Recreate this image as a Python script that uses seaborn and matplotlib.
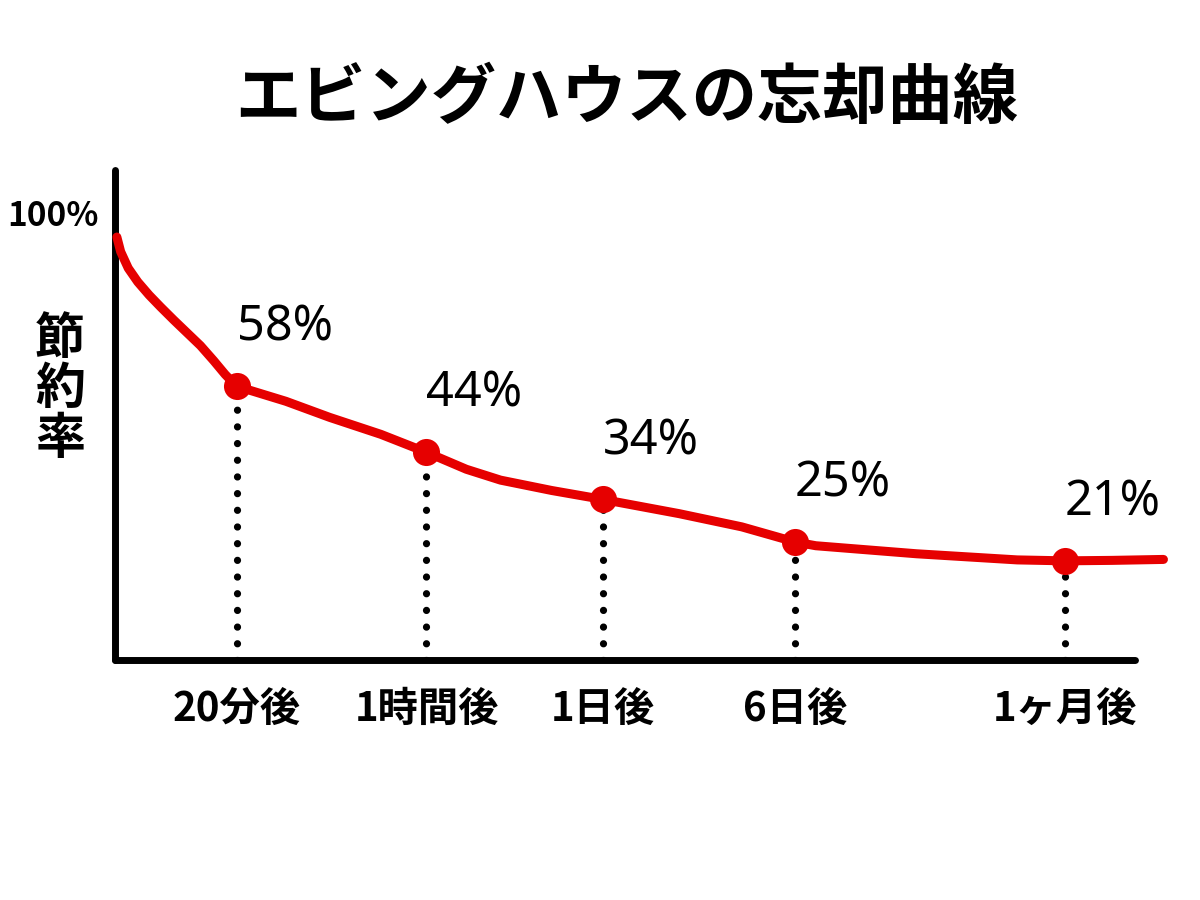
import matplotlib
matplotlib.use("Agg")
import matplotlib.pyplot as plt
import matplotlib.transforms as mtransforms
import seaborn as sns
import pandas as pd

# 記憶の節約率
labels = ["20分後", "1時間後", "1日後", "6日後", "1ヶ月後"]
x_pos = [0.64, 1.64, 2.57, 3.58, 5.0]
savings = [58, 44, 34, 25, 21]

# hand drawn curve: extra points
curve_x = [0.01, 0.03, 0.07, 0.12, 0.18, 0.24, 0.31, 0.38, 0.45, 0.52, 0.58, 0.64,
           0.9, 1.13, 1.4, 1.64, 1.85, 2.03, 2.3, 2.57,
           2.97, 3.3, 3.58, 3.69, 4.22, 4.75, 5.0, 5.25, 5.52]
curve_y = [89.6, 86.5, 83.0, 80.1, 77.3, 74.8, 72.0, 69.3, 66.6, 63.4, 60.5, 58,
           54.8, 51.4, 47.8, 44, 40.4, 38.1, 35.9, 34,
           31.0, 28.2, 25, 24.2, 22.5, 21.2, 21, 21.1, 21.3]

RED = "#e60000"

sns.set_theme(style="white")
plt.rcParams["font.family"] = ["Noto Sans CJK JP", "DejaVu Sans"]
plt.rcParams["text.color"] = "black"
plt.rcParams["xtick.color"] = "black"
plt.rcParams["ytick.color"] = "black"

fig = plt.figure(figsize=(12, 9), dpi=100)
ax = fig.add_axes([0.0958, 0.2667, 0.85, 0.5444])

curve = pd.DataFrame({"x": curve_x, "y": curve_y})
points = pd.DataFrame({"x": x_pos, "y": savings, "label": labels})

# dotted drop lines
for x, y in zip(x_pos, savings):
    ax.plot([x, x], [0, y], color="black", linewidth=5.2,
            linestyle=(0, (0.01, 2.3)), dash_capstyle="round", zorder=2)

sns.lineplot(data=curve, x="x", y="y", ax=ax, color=RED, linewidth=6.5,
             sort=False, zorder=3, clip_on=False)
ax.lines[-1].set_solid_capstyle("round")
ax.lines[-1].set_solid_joinstyle("round")
sns.scatterplot(data=points, x="x", y="y", ax=ax, color=RED, s=380,
                edgecolor=RED, linewidth=0, zorder=4, clip_on=False)

for x, y in zip(x_pos, savings):
    ax.annotate(f"{y}%", (x, y), xytext=(0, 42), textcoords="offset points",
                ha="left", va="center", fontsize=35,
                family=["Noto Sans", "DejaVu Sans"], color="black")

ax.set_xlim(0, 5.37)
ax.set_ylim(0, 103.8)
ax.set_xticks(x_pos)
ax.set_xticklabels(labels, fontsize=29, fontweight="bold")
ax.set_yticks([100])
ax.set_yticklabels(["100%"], fontsize=24, fontweight="bold")
ax.tick_params(axis="x", length=0, pad=21)
ax.tick_params(axis="y", length=0, pad=12)
shift = mtransforms.ScaledTranslation(0, -18 / 72, fig.dpi_scale_trans)
for lab in ax.get_yticklabels():
    lab.set_transform(lab.get_transform() + shift)
ax.set_xlabel("")
ax.set_ylabel("")

for side in ["top", "right"]:
    ax.spines[side].set_visible(False)
for side in ["left", "bottom"]:
    ax.spines[side].set_linewidth(5)
    ax.spines[side].set_color("black")
    ax.spines[side].set_capstyle("round")

fig.text(0.5225, 0.891, "エビングハウスの忘却曲線", ha="center", va="center",
         fontsize=47, fontweight="bold")
fig.text(0.05, 0.567, "\n".join("節約率"), ha="center", va="center",
         fontsize=36, fontweight="bold", linespacing=0.98)

fig.savefig("out.png", dpi=100, facecolor="white")
